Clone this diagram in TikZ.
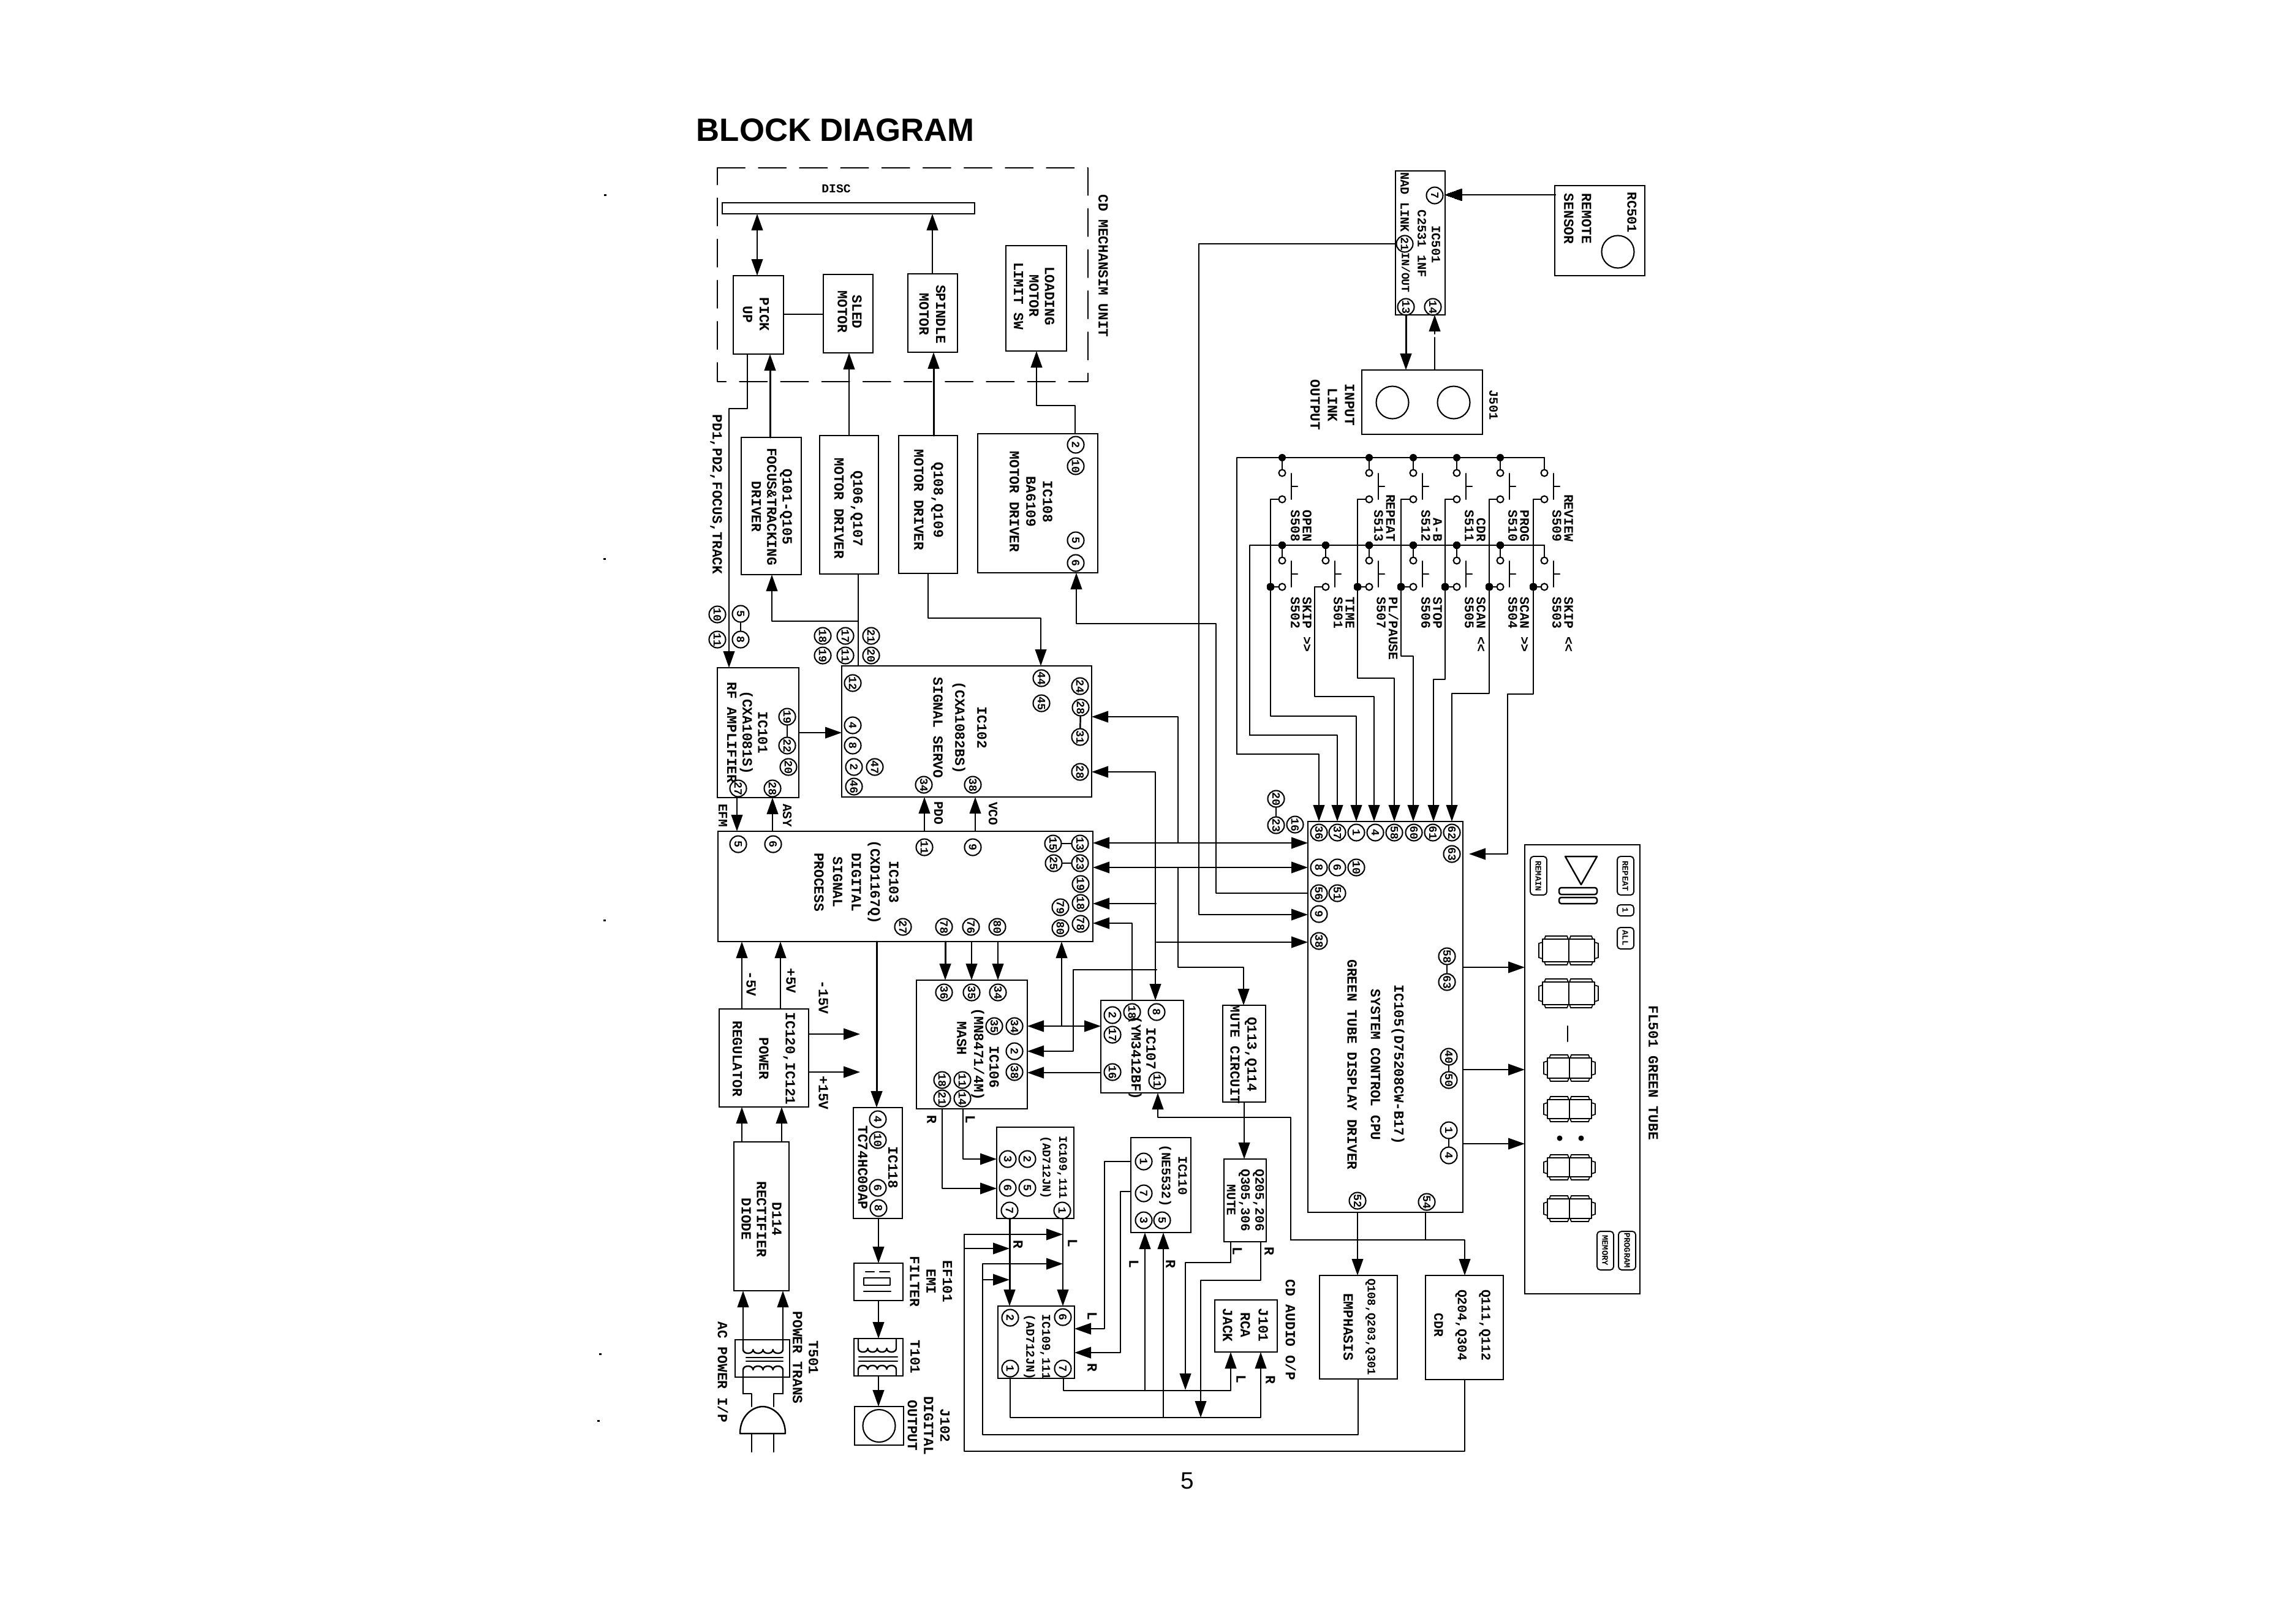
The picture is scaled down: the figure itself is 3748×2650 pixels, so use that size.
\documentclass[tikz,border=0pt]{standalone}
\usepackage{fontspec}
\setmonofont{Liberation Mono}
\newfontfamily\lsans{Liberation Sans}
\usetikzlibrary{arrows.meta,fit,shapes.geometric}
\newcounter{tc}\newcounter{pc}\newcounter{dc}
\newcommand\myf[2]{\ttfamily\bfseries\fontsize{#1}{#2}\selectfont}
\tikzset{
 wire/.style={line width=0.7pt,line cap=round,line join=round},
 heavy/.style={line width=0.85pt,line cap=round,line join=round},
 boxn/.style={draw,line width=0.8pt,inner sep=0pt,outer sep=0pt},
 lbl/.style={rotate=-90,align=center,inner sep=0pt,font=\myf{6.5}{7.2}},
 pinnode/.style={circle,draw,line width=0.6pt,minimum size=0.27cm,inner sep=0pt,rotate=-90,font=\myf{5.2}{5.4}},
 swc/.style={circle,draw,line width=0.6pt,minimum size=0.11cm,inner sep=0pt,fill=white},
 dotn/.style={circle,fill=black,minimum size=0.12cm,inner sep=0pt},
 jack/.style={circle,draw,line width=0.6pt,minimum size=0.53cm,inner sep=0pt},
 >={Triangle[length=2.7mm,width=1.85mm]}
}
\newcommand\bx[4][]{\node[boxn,#1,fit={(#3)(#4)}] (#2) {};}
\newcommand\lb[3][]{\stepcounter{tc}\node[lbl,#1] (txt\arabic{tc}) at (#2) {#3};}
\newcommand\pn[2]{\stepcounter{pc}\node[pinnode] (pin\arabic{pc}) at (#1) {#2};}
\newcommand\pnn[3]{\node[pinnode] (#1) at (#2) {#3};}
\newcommand\dotat[1]{\stepcounter{dc}\node[dotn] (jdot\arabic{dc}) at (#1) {};}
\newcommand\swt[3]{%
 \node[swc] (#1u) at (#2,{#3+25}) {};
 \node[swc] (#1l) at (#2,{#3+68}) {};
 \draw[wire] (#2,#3) -- (#1u);
 \draw[wire] ({#2+15},{#3+26}) -- ({#2+15},{#3+68});
 \draw[wire] ({#2+15},{#3+47}) -- ({#2+25},{#3+47});
}
\newcommand\coil[5]{\pgfmathsetmacro\cw{(#2-#1)/4}
 \draw[wire] (#1,#3) -- (#1,#4) \foreach \i in {0,1,2,3}{ .. controls ({#1+\i*\cw},{#4+#5}) and ({#1+(\i+1)*\cw},{#4+#5}) .. ({#1+(\i+1)*\cw},#4) } -- (#2,#3);}
\newcommand\dgt[5]{%
 \draw[wire] (#1,#4) rectangle (#2,#5);
 \draw[wire] (#2,#4) rectangle (#3,#5);
 \draw[line width=0.5pt] (#1,{#4+5}) -- ({#1-6},{#4+7}) -- ({#1-6},{#5-7}) -- (#1,{#5-5});
 \draw[line width=0.5pt] (#3,{#4+5}) -- ({#3+6},{#4+7}) -- ({#3+6},{#5-7}) -- (#3,{#5-5});
 \draw[line width=0.5pt] ({#1+3},#4) -- ({#1+5},{#4-5}) -- ({#2-3},{#4-5}) -- ({#2-1},#4);
 \draw[line width=0.5pt] ({#2+1},#4) -- ({#2+3},{#4-5}) -- ({#3-5},{#4-5}) -- ({#3-3},#4);
 \draw[line width=0.5pt] ({#1+3},#5) -- ({#1+5},{#5+5}) -- ({#2-3},{#5+5}) -- ({#2-1},#5);
 \draw[line width=0.5pt] ({#2+1},#5) -- ({#2+3},{#5+5}) -- ({#3-5},{#5+5}) -- ({#3-3},#5);
}
\begin{document}
\begin{tikzpicture}[x=0.01cm,y=-0.01cm]
\useasboundingbox (0,0) rectangle (3748,2650);
\fill[white] (0,0) rectangle (3748,2650);
% stray specks
\foreach \sx/\sy in {986/317,985/911,985/1501,978/2209,975/2318} \fill (\sx,\sy) rectangle ({\sx+4},{\sy+3});
% title, page
\node[anchor=base west,inner sep=0pt,font=\lsans\bfseries\fontsize{15}{16}\selectfont] (title) at (1136,230) {BLOCK DIAGRAM};
\node[inner sep=0pt,font=\lsans\fontsize{11}{12}\selectfont] (pageno) at (1938,2417) {5};
% mechanism unit
\draw[wire,dash pattern=on 12.8pt off 6.3pt] (1171,274) -- (1776,274) -- (1776,623) -- (1171,623) -- cycle;
\lb{1801,434}{CD MECHANSIM UNIT}
\bx{disc}{1179,331}{1591,349}
\lb[rotate=90,font=\myf{5.6}{6}]{1365,308}{DISC}
\bx{pickup}{1197,450}{1279,578} \lb[font=\myf{6.5}{7.7}]{1234,513}{PICK\\UP}
\bx{sled}{1344,448}{1425,576} \lb[font=\myf{6.5}{6.8}]{1387,509}{SLED\\MOTOR}
\bx{spindle}{1482,447}{1563,575} \lb[font=\myf{6.5}{7.7}]{1522,513}{SPINDLE\\MOTOR}
\bx{loading}{1642,401}{1741,573} \lb{1688,483}{LOADING\\MOTOR\\LIMIT SW}
% drivers
\bx{focus}{1210,714}{1308,938} \lb{1260,827}{Q101-Q105\\FOCUS\&TRACKING\\DRIVER}
\bx{qa}{1338,711}{1434,937} \lb[font=\myf{6.5}{8.8}]{1385,830}{Q106,Q107\\MOTOR DRIVER}
\bx{qb}{1467,711}{1563,936} \lb[font=\myf{6.5}{9.1}]{1516,816}{Q108,Q109\\MOTOR DRIVER}
\bx{ic108}{1596,708}{1792,935} \lb[font=\myf{6.5}{7.7}]{1683,819}{IC108\\BA6109\\MOTOR DRIVER}
\pn{1756,726}{2} \pn{1756,761}{10} \pn{1756,882}{5} \pn{1756,919}{6}
\lb{1169,807}{PD1,PD2,FOCUS,TRACK}
\pn{1171,1003}{10} \pn{1171,1044}{11}
\pnn{pa5}{1209,1002}{5} \pnn{pa8}{1209,1044}{8}
\pn{1343,1038}{18} \pn{1343,1070}{19} \pn{1380,1038}{17} \pn{1380,1070}{11} \pn{1422,1038}{21} \pn{1422,1070}{20}
% IC101
\bx{ic101}{1171,1090}{1304,1302} \lb[font=\myf{6.5}{7.2}]{1220,1196}{IC101\\(CXA1081S)\\RF AMPLIFIER}
\pnn{pb19}{1285,1170}{19} \pnn{pb22}{1285,1217}{22} \pn{1287,1252}{20} \pn{1205,1287}{27} \pn{1261,1287}{28}
% IC102
\bx{ic102}{1374,1087}{1782,1301} \lb[font=\myf{6.5}{10.2}]{1567,1188}{IC102\\(CXA1082BS)\\SIGNAL SERVO}
\pn{1392,1115}{12} \pn{1392,1184}{4} \pn{1392,1217}{8} \pn{1394,1252}{2} \pn{1428,1252}{47} \pn{1394,1284}{46}
\pn{1508,1281}{34} \pn{1588,1281}{38} \pn{1700,1107}{44} \pn{1700,1148}{45}
\pn{1763,1120}{24} \pnn{pc28}{1764,1155}{28} \pnn{pc31}{1763,1203}{31} \pn{1763,1260}{28}
% IC103
\bx{ic103}{1172,1357}{1784,1537} \lb[font=\myf{6.5}{8.7}]{1398,1440}{IC103\\(CXD1167Q)\\DIGITAL\\SIGNAL\\PROCESS}
\pn{1205,1378}{5} \pn{1262,1378}{6} \pn{1509,1383}{11} \pn{1588,1383}{9}
\pnn{pd15}{1719,1377}{15} \pnn{pd13}{1763,1377}{13} \pnn{pd25}{1720,1409}{25} \pnn{pd23}{1763,1409}{23}
\pn{1764,1443}{19} \pn{1764,1474}{18} \pn{1731,1481}{79} \pn{1764,1508}{78} \pn{1731,1515}{80}
\pn{1474,1513}{27} \pn{1541,1513}{78} \pn{1585,1513}{76} \pn{1628,1513}{80}
\lb[font=\myf{6}{7}]{1180,1331}{EFM} \lb[font=\myf{6}{7}]{1285,1331}{ASY} \lb[font=\myf{6}{7}]{1532,1327}{PDO} \lb[font=\myf{6}{7}]{1621,1328}{VCO}
% power
\bx{ic120}{1174,1647}{1320,1807} \lb[font=\myf{6.5}{12.3}]{1247,1728}{IC120,IC121\\POWER\\REGULATOR}
\lb{1226,1606}{-5V} \lb{1291,1601}{+5V} \lb{1344,1628}{-15V} \lb{1344,1784}{+15V}
\bx{rect114}{1198,1864}{1288,2107} \lb[font=\myf{6.5}{7.1}]{1243,1990}{D114\\RECTIFIER\\DIODE}
\bx{t501}{1200,2187}{1289,2248}
\coil{1213}{1278}{2187}{2203}{8}
\draw[wire] (1218,2216) -- (1278,2216) (1218,2222) -- (1278,2222);
\coil{1213}{1278}{2275}{2236}{-8}
\draw[wire] (1278,2275) -- (1263,2275) -- (1263,2296) (1213,2275) -- (1227,2275) -- (1227,2296);
\draw[wire] (1208,2340) .. controls (1208,2310) and (1230,2296) .. (1245,2296) .. controls (1260,2296) and (1282,2310) .. (1282,2340) -- cycle;
\draw[wire] (1227,2340) -- (1227,2370) (1263,2340) -- (1263,2370);
\lb[font=\myf{6.5}{7.4}]{1315,2216}{T501\\POWER TRANS}
\lb{1180,2240}{AC POWER I/P}
% IC118 chain
\bx{ic118}{1393,1808}{1473,1989} \lb[font=\myf{6.5}{14}]{1433,1906}{IC118\\TC74HC00AP}
\pn{1433,1827}{4} \pn{1433,1861}{10} \pn{1433,1939}{6} \pn{1434,1972}{8}
\bx{ef101}{1394,2062}{1474,2123}
\draw[wire] (1410,2086) rectangle (1453,2098);
\draw[wire] (1413,2076) -- (1427,2076) (1436,2076) -- (1452,2076) (1410,2108) -- (1454,2108);
\bx{t101}{1394,2185}{1474,2246}
\coil{1401}{1463}{2185}{2201}{8}
\draw[wire] (1402,2215) -- (1465,2215) (1402,2222) -- (1465,2222);
\coil{1401}{1463}{2246}{2235}{-8}
\bx{j102}{1395,2296}{1475,2359} \node[jack] (j102c) at (j102.center) {};
\lb[font=\myf{6.5}{7.6}]{1520,2092}{EF101\\EMI\\FILTER}
\lb{1494,2215}{T101}
\lb[font=\myf{6.5}{7.6}]{1516,2327}{J102\\DIGITAL\\OUTPUT}
% IC106
\bx{ic106}{1496,1600}{1677,1810}
\lb{1623,1742}{IC106} \lb{1596,1721}{(MN8471/4M)} \lb{1570,1695}{MASH}
\pn{1541,1620}{36} \pn{1586,1620}{35} \pn{1629,1620}{34}
\pn{1656,1675}{34} \pn{1623,1675}{35} \pn{1656,1716}{2} \pn{1656,1750}{38}
\pn{1571,1763}{11} \pn{1571,1793}{14} \pn{1538,1763}{18} \pn{1538,1793}{21}
\lb{1521,1827}{R} \lb{1584,1827}{L}
% IC107
\bx{ic107}{1797,1633}{1932,1784}
\lb{1879,1712}{IC107} \lb{1853,1727}{(YM3412BF)}
\pn{1888,1652}{8} \pn{1848,1652}{18} \pn{1816,1657}{2} \pn{1816,1689}{17} \pn{1816,1750}{16} \pn{1889,1764}{11}
% Mute
\bx{q113}{1996,1641}{2066,1799} \lb[font=\myf{6.4}{7.9}]{2030,1721}{Q113,Q114\\MUTE CIRCUIT}
\bx{q205}{1998,1892}{2067,2027} \lb[font=\myf{6}{6.6}]{2033,1959}{Q205,206\\Q305,306\\MUTE}
% IC109/111
\bx{ica}{1627,1840}{1753,1989} \lb[font=\myf{5.4}{7.7}]{1720,1906}{IC109,111\\(AD712JN)}
\pn{1677,1892}{2} \pn{1645,1892}{3} \pn{1645,1939}{6} \pn{1677,1939}{5} \pn{1648,1976}{7} \pn{1734,1976}{1}
\bx{icb}{1629,2132}{1754,2250} \lb[font=\myf{5.6}{7.4}]{1693,2199}{IC109,111\\(AD712JN)}
\pn{1649,2151}{2} \pn{1735,2150}{6} \pn{1649,2234}{1} \pn{1735,2234}{7}
\lb{1662,2031}{R} \lb{1751,2029}{L} \lb{1783,2148}{L} \lb{1783,2232}{R}
% IC110
\bx{ic110}{1846,1857}{1944,2012} \lb[font=\myf{6}{7.7}]{1915,1919}{IC110\\(NE5532)}
\pn{1867,1896}{1} \pn{1867,1948}{7} \pn{1867,1992}{3} \pn{1897,1992}{5}
\lb{1851,2063}{L} \lb{1911,2063}{R} \lb{2020,2042}{L} \lb{2072,2042}{R}
% J101
\bx{j101}{1983,2122}{2085,2207} \lb[font=\myf{6.5}{8.3}]{2033,2163}{J101\\RCA\\JACK}
\lb{2026,2251}{L} \lb{2074,2252}{R}
\lb{2107,2171}{CD AUDIO O/P}
% IC105
\bx{ic105}{2135,1341}{2388,1979}
\lb[font=\myf{6.5}{10.9}]{2246,1738}{IC105(D75208CW-B17)\\SYSTEM CONTROL CPU\\GREEN TUBE DISPLAY DRIVER}
\pn{2153,1359}{36} \pn{2183,1359}{37} \pn{2214,1359}{1} \pn{2245,1359}{4} \pn{2276,1359}{58} \pn{2308,1359}{60} \pn{2339,1359}{61} \pn{2370,1359}{62}
\pn{2370,1394}{63} \pn{2153,1416}{8} \pn{2183,1416}{6} \pn{2214,1416}{10}
\pn{2153,1458}{56} \pn{2183,1458}{51} \pn{2153,1492}{9} \pn{2153,1536}{38}
\pnn{pe20}{2083,1304}{20} \pnn{pe23}{2083,1347}{23} \pn{2114,1346}{16}
\pnn{pe58}{2362,1561}{58} \pnn{pe63}{2362,1603}{63} \pnn{pe40}{2365,1725}{40} \pnn{pe50}{2365,1763}{50} \pnn{pe1}{2365,1845}{1} \pnn{pe4}{2365,1886}{4}
\pn{2216,1960}{52} \pn{2329,1962}{54}
\bx{emph}{2154,2082}{2281,2251}
\lb[font=\myf{5.35}{6}]{2237,2166}{Q108,Q203,Q301} \lb{2201,2166}{EMPHASIS}
\bx{cdr}{2327,2082}{2454,2252} \lb[font=\myf{6.1}{11}]{2387,2163}{Q111,Q112\\Q204,Q304\\CDR}
% tube
\bx{tube}{2489,1379}{2677,2112} \lb{2699,1751}{FL501 GREEN TUBE}
\tikzset{ico/.style={rounded corners=1.5pt,line width=0.55pt}, icot/.style={font=\myf{3.9}{4}}}
\bx[ico]{irem}{2498,1398}{2525,1461} \lb[icot]{2511,1430}{REMAIN}
\bx[ico]{irep}{2640,1398}{2667,1461} \lb[icot]{2653,1430}{REPEAT}
\bx[ico]{ione}{2640,1477}{2667,1495} \lb[icot]{2653,1486}{1}
\bx[ico]{iall}{2640,1514}{2667,1549} \lb[icot]{2653,1531}{ALL}
\bx[ico]{imem}{2607,2010}{2634,2073} \lb[icot]{2620,2041}{MEMORY}
\bx[ico]{ipro}{2642,2010}{2670,2073} \lb[icot]{2656,2041}{PROGRAM}
\draw[wire] (2555,1398) -- (2607,1398) -- (2581,1444) -- cycle;
\draw[wire,rounded corners=1pt] (2545,1449) rectangle (2607,1460) (2545,1465) rectangle (2607,1475);
\dgt{2518}{2561}{2603}{1533}{1570}
\dgt{2518}{2561}{2603}{1603}{1640}
\draw[wire] (2559,1675) -- (2559,1700);
\dgt{2526}{2562}{2598}{1727}{1760}
\dgt{2526}{2562}{2598}{1795}{1826}
\fill (2546,1858) circle (4.5);
\fill (2581,1858) circle (4.5);
\dgt{2526}{2562}{2598}{1890}{1921}
\dgt{2526}{2562}{2598}{1957}{1989}
% top right
\bx{ic501}{2278,279}{2359,514}
\lb[font=\myf{5.8}{7}]{2344,399}{IC501} \lb[font=\myf{5.8}{7}]{2321,398}{C2531 1NF} \lb[font=\myf{5.8}{7}]{2293,330}{NAD LINK} \lb[font=\myf{5.2}{7}]{2295,445}{IN/OUT}
\pn{2342,319}{7} \pn{2293,398}{21} \pn{2295,501}{13} \pn{2339,501}{14}
\bx{rc501}{2538,303}{2685,450}
\lb[font=\myf{6.3}{7}]{2664,347}{RC501} \lb[font=\myf{6.5}{7}]{2590,357}{REMOTE} \lb[font=\myf{6.5}{7}]{2561,357}{SENSOR}
\node[jack] (rcc) at (2641,411) {};
\bx{j501}{2223,604}{2420,709}
\node[jack] (jl) at (2273,657) {}; \node[jack] (jr) at (2373,657) {};
\lb[font=\myf{6.5}{8}]{2175,661}{INPUT\\LINK\\OUTPUT} \lb[font=\myf{5.8}{7}]{2438,661}{J501}
% switches
\swt{sa}{2093}{747} \swt{sb}{2235}{747} \swt{sc}{2307}{747} \swt{sd}{2378}{747} \swt{se}{2449}{747} \swt{sf}{2521}{747}
\swt{sg}{2093}{890} \swt{sh}{2164}{890} \swt{si}{2235}{890} \swt{sj}{2307}{890} \swt{sk}{2378}{890} \swt{sl}{2449}{890} \swt{sm}{2521}{890}
\tikzset{swu/.style={anchor=east,align=right,font=\myf{6.1}{5.5}}, swd/.style={anchor=west,align=left,font=\myf{6.1}{5.5}}}
\lb[swu]{2124,885}{OPEN\\S508} \lb[swu]{2260,885}{REPEAT\\S513} \lb[swu]{2337,885}{A-B\\S512} \lb[swu]{2408,885}{CDR\\S511} \lb[swu]{2479,885}{PROG\\S510} \lb[swu]{2551,885}{REVIEW\\S509}
\lb[swd]{2124,974}{SKIP  >>\\S502} \lb[swd]{2194,974}{TIME\\S501} \lb[swd]{2265,974}{PL/PAUSE\\S507} \lb[swd]{2337,974}{STOP\\S506} \lb[swd]{2408,974}{SCAN  <<\\S505} \lb[swd]{2479,974}{SCAN  >>\\S504} \lb[swd]{2551,974}{SKIP  <<\\S503}
% switch wiring
\draw[wire] (2521,747) -- (2019,747) -- (2019,1231);
\draw[wire,->] (2019,1231) -- (2153,1231) -- (ic105.north -| 2153,0);
\draw[wire] (2521,890) -- (2040,890) -- (2040,1200);
\draw[wire,->] (2040,1200) -- (2183,1200) -- (ic105.north -| 2183,0);
\draw[wire,->] (sal) -- (2074,815) -- (2074,1169) -- (2214,1169) -- (ic105.north -| 2214,0);
\draw[wire] (sgl) -- (2074,958);
\draw[wire,->] (shl) -- (2146,958) -- (2146,1137) -- (2243,1137) -- (ic105.north -| 2243,0);
\draw[wire,->] (sbl) -- (2216,815) -- (2216,1107) -- (2276,1107) -- (ic105.north -| 2276,0);
\draw[wire] (sil) -- (2216,958);
\draw[wire,->] (scl) -- (2287,815) -- (2287,1071) -- (2307,1071) -- (ic105.north -| 2307,0);
\draw[wire] (sjl) -- (2287,958);
\draw[wire,->] (sdl) -- (2359,815) -- (2359,1109) -- (2340,1109) -- (ic105.north -| 2340,0);
\draw[wire] (skl) -- (2359,958);
\draw[wire,->] (sel) -- (2431,815) -- (2431,1132) -- (2370,1132) -- (ic105.north -| 2370,0);
\draw[wire] (sll) -- (2431,958);
\coordinate (n83) at (2398,1394);
\draw[wire,->] (sfl) -- (2503,815) -- (2503,1133) -- (2461,1133) -- (2461,1394) -- (n83);
\draw[wire] (sml) -- (2503,958);
\foreach \dx in {2093,2235,2307,2378,2449} \dotat{\dx,747}
\foreach \dx in {2093,2164,2235,2307,2378,2449} \dotat{\dx,890}
\foreach \dx in {2074,2216,2287,2359,2431,2503} \dotat{\dx,958}
% IC501 links
\draw[wire,->] (rc501.west |- 0,318) -- (ic501.east |- 0,318);
\draw[heavy,->] (ic501.south -| 2295,0) -- (j501.north -| 2295,0);
\coordinate (n14) at (2342,551);
\draw[wire] (j501.north -| 2342,0) -- (n14);
\draw[wire,->] (2342,545) -- (ic501.south -| 2342,0);
\draw[wire,->] (ic501.west |- 0,398) -- (1957,398) -- (1957,1493) -- (ic105.west |- 0,1493);
% mechanism connectors
\draw[wire,<->] (disc.south -| 1236,0) -- (pickup.north -| 1236,0);
\draw[wire,->] (spindle.north -| 1522,0) -- (disc.south -| 1522,0);
\draw[wire] (pickup.east |- 0,513) -- (sled.west |- 0,513);
\draw[wire,->] (pickup.south -| 1220,0) -- (1220,667) -- (1190,667) -- (ic101.north -| 1190,0);
\draw[heavy,->] (focus.north -| 1257,0) -- (pickup.south -| 1257,0);
\draw[wire,->] (qa.north -| 1386,0) -- (sled.south -| 1386,0);
\draw[heavy,->] (qb.north -| 1524,0) -- (spindle.south -| 1524,0);
\draw[wire,->] (ic108.north -| 1755,0) -- (1755,662) -- (1692,662) -- (loading.south -| 1692,0);
\draw[wire,->] (ic105.west |- 0,1458) -- (1985,1458) -- (1985,1018) -- (1757,1018) -- (ic108.south -| 1757,0);
\draw[wire] (qa.south -| 1401,0) -- (ic102.north -| 1401,0);
\draw[wire,->] (1401,1014) -- (1260,1014) -- (focus.south -| 1260,0);
\draw[wire,->] (qb.south -| 1515,0) -- (1515,1009) -- (1699,1009) -- (ic102.north -| 1699,0);
% signal connectors
\draw[wire,->] (ic101.east |- 0,1196) -- (ic102.west |- 0,1196);
\draw[wire,->] (ic101.south -| 1203,0) -- (ic103.north -| 1203,0);
\draw[wire,->] (ic103.north -| 1261,0) -- (ic101.south -| 1261,0);
\draw[wire,->] (ic103.north -| 1509,0) -- (ic102.south -| 1509,0);
\draw[wire,->] (ic103.north -| 1592,0) -- (ic102.south -| 1592,0);
\draw[wire,->] (1923,1375) -- (1923,1170) -- (ic102.east |- 0,1170);
\draw[wire,<->] (ic102.east |- 0,1260) -- (1886,1260) -- (ic107.north -| 1886,0);
\draw[wire,<->] (ic103.east |- 0,1376) -- (ic105.west |- 0,1376);
\draw[wire,<->] (ic103.east |- 0,1416) -- (ic105.west |- 0,1416);
\draw[wire,->] (1923,1416) -- (1923,1579) -- (2030,1579) -- (q113.north -| 2030,0);
\draw[wire,->] (1887,1475) -- (ic103.east |- 0,1475);
\draw[wire,->] (ic107.north -| 1848,0) -- (1848,1507) -- (ic103.east |- 0,1507);
\draw[wire,->] (1888,1583) -- (1752,1583) -- (1752,1716) -- (ic106.east |- 0,1716);
\draw[wire,->] (1888,1538) -- (ic105.west |- 0,1538);
\draw[heavy,->] (ic103.south -| 1543,0) -- (ic106.north -| 1543,0);
\draw[wire,->] (ic103.south -| 1586,0) -- (ic106.north -| 1586,0);
\draw[wire,->] (ic103.south -| 1629,0) -- (ic106.north -| 1629,0);
\draw[wire,->] (1733,1675) -- (ic103.south -| 1733,0);
\draw[wire,<->] (ic106.east |- 0,1675) -- (ic107.west |- 0,1675);
\draw[wire,->] (ic107.west |- 0,1751) -- (ic106.east |- 0,1751);
\draw[heavy,->] (ic103.south -| 1431,0) -- (ic118.north -| 1431,0);
% power connectors
\draw[wire,->] (ic120.north -| 1211,0) -- (ic103.south -| 1211,0);
\draw[wire,->] (ic120.north -| 1274,0) -- (ic103.south -| 1274,0);
\coordinate (m15) at (1404,1688); \coordinate (v15) at (1404,1750);
\draw[wire,->] (ic120.east |- 0,1688) -- (m15);
\draw[wire,->] (ic120.east |- 0,1750) -- (v15);
\draw[wire,->] (rect114.north -| 1211,0) -- (ic120.south -| 1211,0);
\draw[wire,->] (rect114.north -| 1276,0) -- (ic120.south -| 1276,0);
\draw[wire,->] (t501.north -| 1213,0) -- (rect114.south -| 1213,0);
\draw[wire,->] (t501.north -| 1278,0) -- (rect114.south -| 1278,0);
\draw[wire,->] (ic118.south -| 1434,0) -- (ef101.north -| 1434,0);
\draw[wire,->] (ef101.south -| 1434,0) -- (t101.north -| 1434,0);
\draw[wire,->] (t101.south -| 1434,0) -- (j102.north -| 1434,0);
% audio connectors
\draw[wire,->] (ic106.south -| 1538,0) -- (1538,1940) -- (ica.west |- 0,1940);
\draw[wire,->] (ic106.south -| 1572,0) -- (1572,1892) -- (ica.west |- 0,1892);
\draw[heavy,->] (ica.south -| 1648,0) -- (icb.north -| 1648,0);
\draw[wire,->] (ica.south -| 1735,0) -- (icb.north -| 1735,0);
\draw[wire,->] (cdr.south -| 2391,0) -- (2391,2369) -- (1574,2369) -- (1574,2015) -- (1735,2015);
\draw[wire,->] (1574,2038) -- (1648,2038);
\draw[wire,->] (emph.south -| 2217,0) -- (2217,2342) -- (1604,2342) -- (1604,2063) -- (1735,2063);
\draw[wire,->] (1604,2089) -- (1648,2089);
\draw[wire,->] (ic110.west |- 0,1896) -- (1803,1896) -- (1803,2169) -- (icb.east |- 0,2169);
\draw[wire,->] (ic110.west |- 0,1945) -- (1829,1945) -- (1829,2208) -- (icb.east |- 0,2208);
\draw[wire,->] (icb.south -| 1736,0) -- (1736,2270) -- (2009,2270) -- (j101.south -| 2009,0);
\draw[wire,->] (1869,2270) -- (ic110.south -| 1869,0);
\draw[wire,->] (icb.south -| 1649,0) -- (1649,2314) -- (2058,2314) -- (j101.south -| 2058,0);
\draw[wire,->] (1899,2314) -- (ic110.south -| 1899,0);
\draw[wire,->] (q205.south -| 2009,0) -- (2009,2061) -- (1935,2061) -- (1935,2269);
\draw[wire,->] (q205.south -| 2058,0) -- (2058,2090) -- (1960,2090) -- (1960,2314);
\draw[wire,->] (q113.south -| 2031,0) -- (q205.north -| 2031,0);
% IC105 outputs
\draw[wire,->] (ic105.south -| 2216,0) -- (emph.north -| 2216,0);
\draw[wire] (ic105.south -| 2327,0) -- (2327,2024);
\draw[wire,->] (2107,2024) -- (2391,2024) -- (cdr.north -| 2391,0);
\draw[wire,->] (2107,2024) -- (2107,1824) -- (1890,1824) -- (ic107.south -| 1890,0);
\draw[wire,->] (ic105.east |- 0,1579) -- (tube.west |- 0,1579);
\draw[wire,->] (ic105.east |- 0,1746) -- (tube.west |- 0,1746);
\draw[wire,->] (ic105.east |- 0,1867) -- (tube.west |- 0,1867);
% pin range dashes
\draw[wire] (pa5) -- (pa8); \draw[wire] (pb19) -- (pb22); \draw[wire] (pc28) -- (pc31);
\draw[wire] (pd15) -- (pd13); \draw[wire] (pd25) -- (pd23); \draw[wire] (pe20) -- (pe23);
\draw[wire] (pe58) -- (pe63); \draw[wire] (pe40) -- (pe50); \draw[wire] (pe1) -- (pe4);
\end{tikzpicture}
\end{document}
